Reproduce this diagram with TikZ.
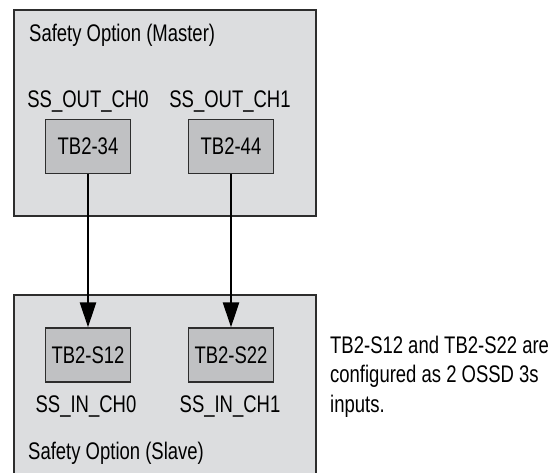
\documentclass[tikz,border=0pt]{standalone}
\usepackage{fontspec}
\setmainfont{Liberation Sans}[FakeStretch=0.77]
\usepackage{xcolor}
\usetikzlibrary{arrows.meta, positioning}
\definecolor{soFill}{RGB}{220,221,223}
\definecolor{soTerm}{RGB}{192,193,195}
\definecolor{soEdge}{RGB}{ 45, 45, 45}

\begin{document}
\begin{tikzpicture}[x=1pt, y=-1pt,
    module/.style={fill=soFill, draw=soEdge, line width=1.5pt},
    term/.style={draw=soEdge, line width=1.3pt, fill=soTerm, minimum width=85pt,
                 minimum height=54pt, inner sep=0pt, font=\fontsize{24}{29.5}\selectfont},
    lbl/.style={font=\fontsize{24}{29.5}\selectfont, inner sep=0pt, anchor=base west},
    sig/.style={font=\fontsize{24}{29.5}\selectfont, inner sep=0pt, anchor=base},
    wire/.style={line width=2.2pt, -{Triangle[length=25pt, width=16pt]}}
  ]
  \useasboundingbox (0,0) rectangle (559,472);

  % Master
  \draw[module] (14,10) rectangle (316,216);
  \node[lbl] (mtitle) at (29,41) {Safety Option (Master)};
  \node[sig] (out0) at (88,107) {SS\_OUT\_CH0};
  \node[sig] (out1) at (230,107) {SS\_OUT\_CH1};
  \node[term] (t34) at (88,146.5) {TB2-34};
  \node[term] (t44) at (231,146.5) {TB2-44};

  % Slave
  \path[fill=soFill] (14,295) rectangle (316,480);
  \draw[soEdge, line width=1.5pt] (14,480) -- (14,295) -- (316,295) -- (316,480);
  \node[term] (s12) at (88,355) {TB2-S12};
  \node[term] (s22) at (231,355) {TB2-S22};
  \node[sig] (in0) at (86,412) {SS\_IN\_CH0};
  \node[sig] (in1) at (230,412) {SS\_IN\_CH1};
  \node[lbl] (stitle) at (28,459) {Safety Option (Slave)};

  \draw[wire] (t34) -- (s12);
  \draw[wire] (t44) -- (s22);

  \node[font=\fontsize{24}{29.5}\selectfont, anchor=base west, inner sep=0pt,
        align=left] (note) at (330,412)
       {TB2-S12 and TB2-S22 are\\configured as 2 OSSD 3s\\inputs.};
\end{tikzpicture}
\end{document}
